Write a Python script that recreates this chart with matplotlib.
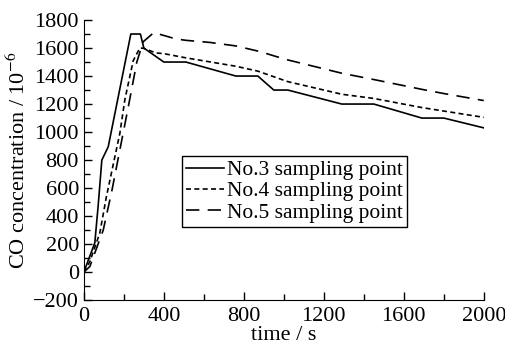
import matplotlib.pyplot as plt
from matplotlib.ticker import MultipleLocator

plt.rcParams['font.family'] = ['Liberation Serif', 'DejaVu Serif']
plt.rcParams['mathtext.fontset'] = 'stix'

# No.3 sampling point
t3 = [0, 55, 72, 90, 122, 235, 283, 300, 400, 510, 760, 870, 950, 1020, 1290, 1450, 1690, 1800, 2000]
co3 = [0, 210, 480, 800, 895, 1700, 1700, 1600, 1500, 1500, 1400, 1400, 1300, 1300, 1200, 1200, 1100, 1100, 1030]

# No.4 sampling point
t4 = [0, 30, 80, 113, 180, 205, 247, 280, 300, 360, 400, 510, 760, 870, 950, 1020, 1290, 1450, 1690, 1800, 2000]
co4 = [0, 75, 280, 540, 990, 1230, 1510, 1600, 1598, 1565, 1560, 1530, 1470, 1435, 1395, 1360, 1270, 1240, 1175, 1150, 1105]

# No.5 sampling point
t5 = [0, 30, 97, 140, 225, 265, 297, 350, 460, 510, 630, 760, 880, 960, 1020, 1290, 1450, 1690, 1800, 2000]
co5 = [0, 40, 300, 580, 1200, 1500, 1645, 1710, 1665, 1655, 1640, 1615, 1575, 1540, 1515, 1420, 1375, 1305, 1275, 1225]

fig = plt.figure(figsize=(5.05, 3.45), dpi=100)
ax = fig.add_axes([0.166, 0.130, 0.792, 0.812])

ax.plot(t3, co3, color='black', lw=1.2, label='No.3 sampling point')
ax.plot(t4, co4, color='black', lw=1.2, dashes=(3, 2), label='No.4 sampling point')
ax.plot(t5, co5, color='black', lw=1.2, dashes=(8, 5), label='No.5 sampling point')

ax.set_xlim(0, 2000)
ax.set_ylim(-200, 1800)
ax.xaxis.set_major_locator(MultipleLocator(400))
ax.xaxis.set_minor_locator(MultipleLocator(200))
ax.yaxis.set_major_locator(MultipleLocator(200))
ax.yaxis.set_minor_locator(MultipleLocator(100))
ax.tick_params(which='both', direction='in', labelsize=16, width=1)
ax.tick_params(which='major', length=6)
ax.tick_params(which='minor', length=4)
ax.tick_params(axis='x', pad=5)
ax.spines['top'].set_visible(False)
ax.spines['right'].set_visible(False)

ax.set_xlabel('time / s', fontsize=16, labelpad=0)
ax.set_ylabel('CO concentration / 10$^{-6}$', fontsize=16, labelpad=2)

leg = ax.legend(loc='upper left', bbox_to_anchor=(0.245, 0.515), fontsize=15.5,
                frameon=True, fancybox=False, edgecolor='black', framealpha=1,
                handlelength=1.75, handletextpad=0.15, labelspacing=0.05,
                borderpad=0.2, borderaxespad=0)
leg.get_frame().set_linewidth(1)

fig.savefig('out.png', dpi=100)
